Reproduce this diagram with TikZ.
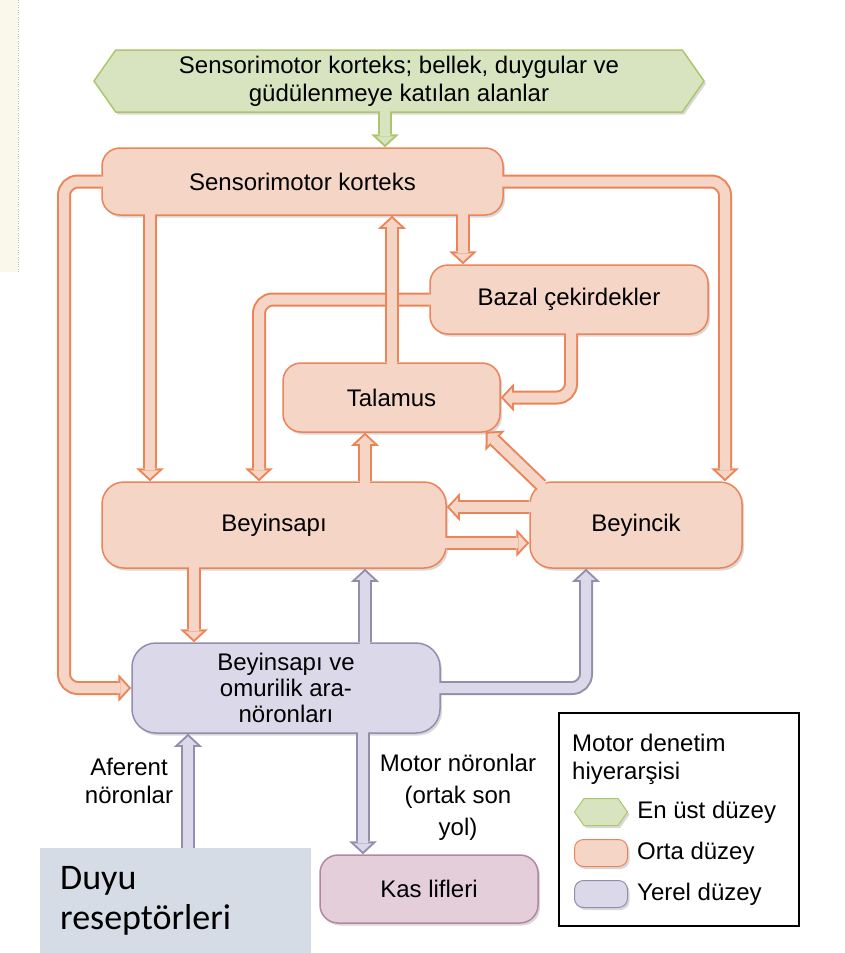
\documentclass[tikz,border=0pt]{standalone}
\usepackage{fontspec}
\setmainfont{Liberation Sans}
\newfontfamily\duyufont{Carlito}
\usepackage{xcolor}
\usepackage{tikz}
\usetikzlibrary{shapes.symbols, arrows.meta, positioning, calc, shadows}

\definecolor{orgfill}{RGB}{245,213,198}
\definecolor{orgline}{RGB}{237,132,88}
\definecolor{grnfill}{RGB}{216,228,192}
\definecolor{grnline}{RGB}{172,198,108}
\definecolor{prpfill}{RGB}{219,217,233}
\definecolor{prpline}{RGB}{146,142,172}
\definecolor{kasfill}{RGB}{228,206,218}
\definecolor{kasline}{RGB}{178,136,160}
\definecolor{duyufill}{RGB}{214,220,229}
\definecolor{stripfill}{RGB}{250,247,235}

\begin{document}
\begin{tikzpicture}[x=1pt, y=-1pt, font=\fontsize{24}{28}\selectfont,
  pipe/.style={preaction={draw=#1line, line width=14pt, shorten <=0pt, shorten >=0pt,
      -{Triangle[length=13pt, width=28pt, line width=0pt]}},
    draw=#1fill, line width=10pt, shorten <=-2pt, shorten >=2.7pt,
    -{Triangle[length=8.3pt, width=17.8pt, line width=0pt]}, rounded corners=14pt}]
\tikzstyle{shade}=[drop shadow={shadow xshift=2pt, shadow yshift=-2.5pt, fill=black, opacity=.15}]
\tikzstyle{topbox}=[signal, signal to=west and east, signal pointer angle=110, draw=grnline, fill=grnfill, line width=1.5pt, align=center, inner sep=0pt, shade]
\tikzstyle{midbox}=[rectangle, draw=orgline, fill=orgfill, line width=1.5pt, rounded corners=18pt, align=center, inner sep=0pt, shade]
\tikzstyle{lowbox}=[rectangle, draw=prpline, fill=prpfill, line width=1.5pt, rounded corners=24pt, align=center, inner sep=0pt, shade]
\tikzstyle{kasbox}=[rectangle, draw=kasline, fill=kasfill, line width=1.5pt, rounded corners=18pt, align=center, inner sep=0pt, shade]
\tikzstyle{legicon}=[minimum width=53pt, minimum height=27pt, line width=1pt]

\useasboundingbox (0,0) rectangle (844,953);
\fill[stripfill] (0,0) rectangle (18,272);
\draw[black!25, dotted] (18,0) -- (18,272);

% levels of the hierarchy
\node[topbox, minimum width=610pt, minimum height=62pt] (top) at (399,81) {Sensorimotor korteks; bellek, duygular ve\\güdülenmeye katılan alanlar};
\node[midbox, minimum width=401pt, minimum height=67pt] (smk) at (302.5,181.5) {Sensorimotor korteks};
\node[midbox, minimum width=278pt, minimum height=69pt] (baz) at (569,299.5) {Bazal çekirdekler};
\node[midbox, minimum width=217pt, minimum height=69pt] (tal) at (391.5,397.5) {Talamus};
\node[midbox, minimum width=344pt, minimum height=86pt, rounded corners=22pt] (bsp) at (274,525) {Beyinsapı};
\node[midbox, minimum width=212pt, minimum height=86pt, rounded corners=22pt] (byc) at (636,525) {Beyincik};
\node[lowbox, minimum width=308pt, minimum height=90pt, font=\fontsize{24}{26}\selectfont] (loc) at (286,688) {Beyinsapı ve\\omurilik ara-\\nöronları};
\node[kasbox, minimum width=218pt, minimum height=68pt] (kas) at (429,889) {Kas lifleri};

\node[align=center] (aff) at (129,781) {Aferent\\nöronlar};
\node[align=center, font=\fontsize{24}{32}\selectfont] (mot) at (458,797) {Motor nöronlar\\(ortak son\\yol)};

% legend
\node[draw, line width=1.5pt, minimum width=240pt, minimum height=213pt, inner sep=0pt] (legend) at (679,819.5) {};
\node[align=left, anchor=north west, inner sep=0pt] (legtitle) at (572,734) {Motor denetim\\hiyerarşisi};
\node[topbox, legicon] (icontop) at (601,812) {};
\node[midbox, legicon, rounded corners=9pt] (iconmid) at (601,853) {};
\node[lowbox, legicon, rounded corners=9pt] (iconlow) at (601,894) {};
\node[right=9pt of icontop, inner sep=0pt] (labtop) {En üst düzey};
\node[right=9pt of iconmid, inner sep=0pt] (labmid) {Orta düzey};
\node[right=9pt of iconlow, inner sep=0pt] (lablow) {Yerel düzey};

% connections
\draw[pipe=grn] (385,0 |- top.south) -- (385,0 |- smk.north);
\draw[pipe=org] (smk.west) -- (64,0 |- smk.west) |- (loc.west);
\draw[pipe=org] (smk.east) -| (725,0 |- byc.north);
\draw[pipe=org] (150,0 |- smk.south) -- (150,0 |- bsp.north);
\draw[pipe=org] (463,0 |- smk.south) -- (463,0 |- baz.north);
\draw[pipe=org] (baz.west) -| (259,0 |- bsp.north);
\draw[pipe=org] (392,0 |- tal.north) -- (392,0 |- smk.south);
\draw[pipe=org] (571,0 |- baz.south) |- (tal.east);
\draw[pipe=org] (365,0 |- bsp.north) -- (365,0 |- tal.south);
\draw[pipe=org] ($(byc.north west)+(12,4)$) -- ($(tal.south east)+(-15,-1)$);
\draw[pipe=org] (byc.west |- 0,507) -- (bsp.east |- 0,507);
\draw[pipe=org] (bsp.east |- 0,543) -- (byc.west |- 0,543);
\draw[pipe=org] (194,0 |- bsp.south) -- (194,0 |- loc.north);
\draw[pipe=prp] (365,0 |- loc.north) -- (365,0 |- bsp.south);
\draw[pipe=prp] (loc.east) -| (586,0 |- byc.south);
\draw[pipe=prp] (363,0 |- loc.south) -- (363,0 |- kas.north);
\coordinate (affstart) at (188,875);
\draw[pipe=prp] (affstart) -- (affstart |- loc.south);

\node[fill=duyufill, minimum width=271pt, minimum height=105pt, anchor=north west, inner xsep=20pt, text width=231pt, align=left, font=\duyufont\fontsize{36}{40}\selectfont] (duyu) at (40,848) {Duyu\\reseptörleri};

\end{tikzpicture}
\end{document}
